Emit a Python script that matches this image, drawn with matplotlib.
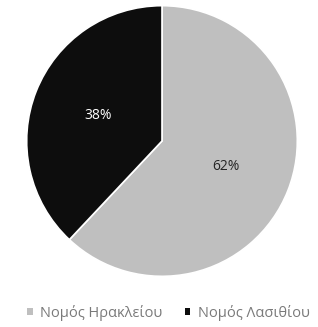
import matplotlib
matplotlib.use("Agg")
import matplotlib.pyplot as plt
from matplotlib.patches import Patch

plt.rcParams["font.family"] = ["Open Sans", "DejaVu Sans"]

labels = ["Νομός Ηρακλείου", "Νομός Λασιθίου"]
shares = [62, 38]
colors = ["#bfbfbf", "#0d0d0d"]
text_colors = ["#262626", "#ffffff"]

fig = plt.figure(figsize=(3.18, 3.27), dpi=100)
ax = fig.add_axes([26 / 318, 50 / 327, 272 / 318, 272 / 327])

wedges, texts, autotexts = ax.pie(
    shares,
    colors=colors,
    startangle=90,
    counterclock=False,
    autopct="%1.0f%%",
    pctdistance=0.51,
    wedgeprops={"edgecolor": "white", "linewidth": 1.2},
)
for t, c in zip(autotexts, text_colors):
    t.set_color(c)
    t.set_fontsize(10)
ax.set_xlim(-1.005, 1.005)
ax.set_ylim(-1.005, 1.005)
ax.set_aspect("equal")

handles = [Patch(facecolor=c, edgecolor="none") for c in colors]
fig.legend(
    handles,
    labels,
    loc="center",
    bbox_to_anchor=(0.53, 14 / 327),
    ncol=2,
    frameon=False,
    fontsize=10.5,
    handlelength=0.35,
    handleheight=0.35,
    handletextpad=0.5,
    columnspacing=1.6,
    labelcolor="#7a7a7a",
)

fig.savefig("out.png", dpi=100)
